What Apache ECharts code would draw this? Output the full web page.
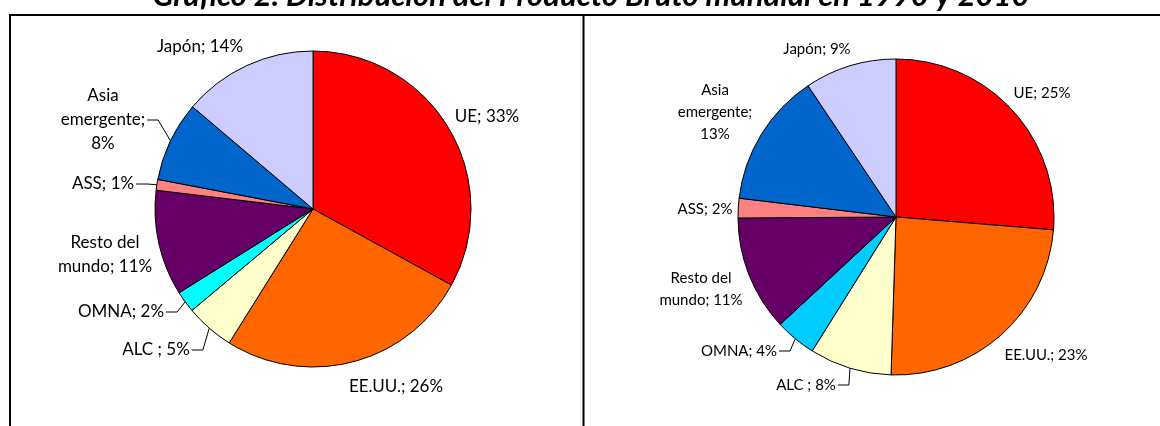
<!DOCTYPE html>
<html>
<head>
<meta charset="utf-8">
<title>Distribución del Producto Bruto mundial</title>
<script src="https://cdn.jsdelivr.net/npm/echarts@6/dist/echarts.min.js"></script>
<style>
  html, body { margin: 0; padding: 0; background: #fff; }
  #chart { width: 1160px; height: 426px; }
</style>
</head>
<body>
<div id="chart"></div>
<script>
const title = 'Gráfico 2. Distribución del Producto Bruto mundial en 1990 y 2010'

const regions = ['UE', 'EE.UU.', 'ALC ', 'OMNA', 'Resto del mundo', 'ASS', 'Asia emergente', 'Japón']

// shares
const share1990 = [33.0, 25.9, 5.0, 2.2, 10.8, 1.1, 8.2, 13.8]
const share2010 = [26.3, 24.2, 8.4, 4.2, 11.8, 2.0, 13.7, 9.4]

// percentages as printed in the data labels
const shown1990 = [33, 26, 5, 2, 11, 1, 8, 14]
const shown2010 = [25, 23, 8, 4, 11, 2, 13, 9]

const colors1990 = ['#ff0000', '#ff6600', '#ffffcc', '#00ffff', '#660066', '#ff8080', '#0066cc', '#ccccff']
const colors2010 = ['#ff0000', '#ff6600', '#ffffcc', '#00ccff', '#660066', '#ff8080', '#0066cc', '#ccccff']

// labels that were dragged away from their slice and keep a leader line
const leaders1990 = ['ALC ', 'OMNA', 'ASS', 'Asia emergente']
const leaders2010 = ['ALC ', 'OMNA']

// label centres, offset from the pie centre (px)
const spots1990 = [[174, -92], [83, 178], [-157, 141], [-192, 103], [-208, 46], [-210, -25], [-210, -89], [-113, -162]]
const spots2010 = [[146, -124], [150, 138], [-90, 168], [-157, 134], [-195, 72], [-191, -8], [-181, -105], [-79, -168]]

const RADIUS = 158

const pies = [
  { center: [313, 209], share: share1990, shown: shown1990, colors: colors1990, leaders: leaders1990, spots: spots1990, fontSize: 17, lineHeight: 24 },
  { center: [896, 217], share: share2010, shown: shown2010, colors: colors2010, leaders: leaders2010, spots: spots2010, fontSize: 15, lineHeight: 22 }
]

// Excel wraps the long labels onto short lines
const wrapLabel = (text) => {
  if (text.length <= 12) return text
  const lines = []
  let line = ''
  text.split(' ').forEach(word => {
    if (line && (line + ' ' + word).length > 10) {
      lines.push(line)
      line = word
    } else {
      line = line ? line + ' ' + word : word
    }
  })
  lines.push(line)
  return lines.join('\n')
}

const buildSeries = (pie) => {
  const total = pie.share.reduce((a, b) => a + b, 0)
  const [cx, cy] = pie.center

  return {
    type: 'pie',
    center: pie.center,
    radius: RADIUS,
    startAngle: 90,
    clockwise: true,
    avoidLabelOverlap: false,
    silent: true,
    itemStyle: {
      borderColor: '#000',
      borderWidth: 1
    },
    label: {
      show: true,
      position: 'outside',
      alignTo: 'none',
      color: '#000',
      fontFamily: 'Lato',
      fontSize: pie.fontSize,
      lineHeight: pie.lineHeight,
      formatter: (p) => wrapLabel(`${p.name}; ${pie.shown[p.dataIndex]}%`)
    },
    labelLine: {
      show: true,
      length: 5,
      length2: 5,
      lineStyle: { color: '#000', width: 1 }
    },
    labelLayout: (params) => {
      const i = params.dataIndex
      const [dx, dy] = pie.spots[i]
      const x = cx + dx
      const y = cy + dy
      const out = { x, y, align: 'center', verticalAlign: 'middle' }

      if (pie.leaders.includes(regions[i])) {
        const before = pie.share.slice(0, i).reduce((a, b) => a + b, 0) + pie.share[i] / 2
        const angle = before / total * Math.PI * 2
        const arc = [cx + RADIUS * Math.sin(angle), cy - RADIUS * Math.cos(angle)]
        const side = dx < 0 ? 1 : -1
        const edge = [x + side * (params.labelRect.width / 2 + 2), y]
        const elbow = [edge[0] + side * 11, y]
        out.labelLinePoints = [arc, elbow, edge]
      }
      return out
    },
    data: regions.map((name, i) => ({
      name,
      value: pie.share[i],
      itemStyle: { color: pie.colors[i] },
      labelLine: { show: pie.leaders.includes(name) }
    }))
  }
}

const chart = echarts.init(document.getElementById('chart'))

chart.setOption({
  animation: false,
  backgroundColor: '#fff',
  graphic: [
    {
      type: 'rect',
      silent: true,
      shape: { x: 10, y: 15, width: 1300, height: 600 },
      style: { fill: 'none', stroke: '#000', lineWidth: 2 }
    },
    {
      type: 'line',
      silent: true,
      shape: { x1: 583.5, y1: 15, x2: 583.5, y2: 426 },
      style: { stroke: '#000', lineWidth: 2 }
    },
    {
      type: 'text',
      silent: true,
      x: 591,
      y: -4,
      style: {
        text: title,
        fill: '#000',
        fontFamily: 'Lato',
        fontSize: 31,
        fontWeight: 'bold',
        fontStyle: 'italic',
        align: 'center',
        verticalAlign: 'middle'
      }
    }
  ],
  series: pies.map(buildSeries)
})

window.addEventListener('resize', () => chart.resize())
</script>
</body>
</html>
